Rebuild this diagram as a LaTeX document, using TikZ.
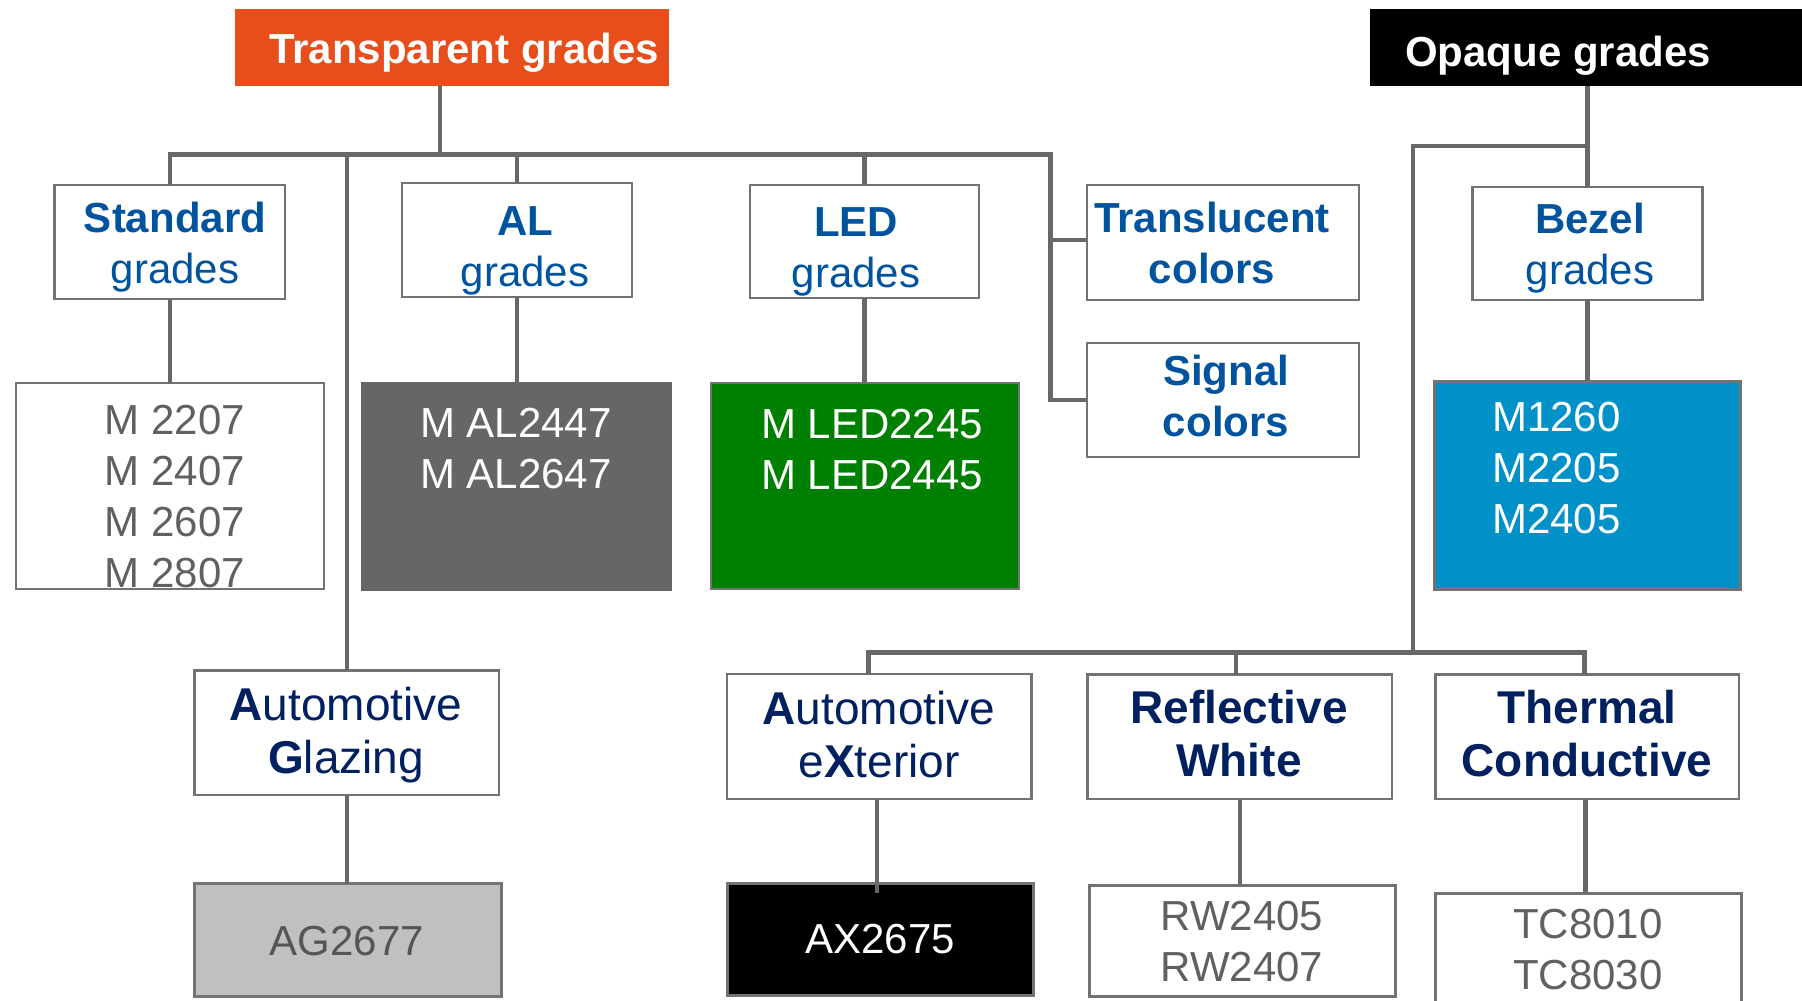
\documentclass[tikz,border=0pt]{standalone}
\usepackage{fontspec}
\setmainfont{Liberation Sans}
\definecolor{orng}{RGB}{232,78,27}
\definecolor{topblue}{RGB}{0,84,159}
\definecolor{navy}{RGB}{0,32,96}
\definecolor{linegray}{RGB}{104,104,104}
\definecolor{bordergray}{RGB}{115,115,115}
\definecolor{prodgray}{RGB}{96,96,96}
\definecolor{alfill}{RGB}{102,102,102}
\definecolor{ledgreen}{RGB}{0,128,0}
\definecolor{bezblue}{RGB}{0,145,200}
\definecolor{agfill}{RGB}{192,192,192}
\definecolor{agtext}{RGB}{85,85,85}
\newcommand\stk[1]{\begin{tabular}[t]{@{}c@{}}#1\end{tabular}}
\newcommand\stkl[1]{\begin{tabular}[t]{@{}l@{}}#1\end{tabular}}
\begin{document}
\begin{tikzpicture}[x=1pt,y=-1pt,
  box/.style={draw=bordergray, line width=2.5pt, fill=white, rectangle, inner sep=0pt, outer sep=0pt},
  conn/.style={draw=linegray, line width=4.5pt, line join=miter, line cap=butt},
  connthin/.style={draw=linegray, line width=3.2pt, line join=miter, line cap=butt},
  txt/.style={anchor=base, inner sep=0pt, font=\fontsize{42}{51}\selectfont},
  txtl/.style={anchor=base west, inner sep=0pt, font=\fontsize{42}{51.3}\selectfont},
  cat/.style={anchor=base, inner sep=0pt, font=\fontsize{46}{53}\selectfont, text=navy}]
\useasboundingbox (0,0) rectangle (1802,1001);
\clip (0,0) rectangle (1802,1001);

% bus coordinates
\coordinate (busR) at (1050.5,154.5);
\coordinate (obr) at (1413,146);
\coordinate (lbus) at (1413,652.7);

% header boxes
\node[rectangle, fill=orng, inner sep=0pt, minimum width=434, minimum height=77] (tr) at (452,47.5) {};
\node[rectangle, fill=black, inner sep=0pt, minimum width=440, minimum height=77] (op) at (1590,47.5) {};

% category boxes (top)
\node[box, minimum width=230.5, minimum height=114] (std) at (169.75,242) {};
\node[box, minimum width=230, minimum height=114] (al) at (517,240) {};
\node[box, minimum width=229, minimum height=113] (led) at (864.5,241.5) {};
\node[box, minimum width=272, minimum height=115] (tl) at (1223,242.5) {};
\node[box, minimum width=272, minimum height=114] (sig) at (1223,400) {};
\node[box, minimum width=230, minimum height=113] (bez) at (1587.7,243.5) {};

% product boxes (top)
\node[box, minimum width=308, minimum height=206] (stdp) at (170,486) {};
\node[box, draw=alfill, fill=alfill, minimum width=309, minimum height=207] (alp) at (516.5,486.5) {};
\node[box, fill=ledgreen, minimum width=308, minimum height=206] (ledp) at (865,486) {};
\node[box, fill=bezblue, line width=3pt, minimum width=306, minimum height=208] (bezp) at (1587,485) {};

% category boxes (bottom)
\node[box, minimum width=304.5, minimum height=124.5] (agc) at (346.75,732.75) {};
\node[box, minimum width=304.7, minimum height=125] (axc) at (879.35,736.5) {};
\node[box, minimum width=304.3, minimum height=124.3] (rwc) at (1239.85,736.85) {};
\node[box, minimum width=303.4, minimum height=124.3] (tcc) at (1587.3,736.85) {};

% product boxes (bottom)
\node[box, fill=agfill, line width=3pt, minimum width=306.5, minimum height=112.3] (agp) at (347.75,939.85) {};
\node[box, fill=black, line width=3pt, minimum width=306, minimum height=112] (axp) at (880,939) {};
\node[box, line width=3pt, minimum width=306, minimum height=111.7] (rwp) at (1242,940.85) {};
\node[box, line width=3pt, minimum width=306, minimum height=122] (tcp) at (1588.6,954) {};

% connectors: transparent tree
\draw[conn] ([xshift=-12pt]tr.south) -- ([xshift=-12pt]tr.south |- busR);
\draw[conn] (std.north) |- (busR) |- (sig.west);
\draw[conn] (busR |- tl.west) ++(0,-2.5) -- ([yshift=2.5pt]tl.west);
\draw[conn] (al.north) -- (al.north |- busR);
\draw[conn] (led.north) -- (led.north |- busR);
\draw[conn] (agc.north) -- (agc.north |- busR);
\draw[conn] (std.south) -- (std.south |- stdp.north);
\draw[conn] (al.south) -- (al.south |- alp.north);
\draw[conn] (led.south) -- (led.south |- ledp.north);
\draw[conn] (agc.south) -- (agc.south |- agp.north);
% connectors: opaque tree
\draw[conn] (bez.north) -- (bez.north |- op.south);
\draw[conn] (bez.south) -- (bez.south |- bezp.north);
\draw[connthin] (bez.north |- obr) -- (obr) -- (lbus);
\draw[conn] ([xshift=-11pt]axc.north) |- (lbus) -| ([xshift=-3pt]tcc.north);
\draw[conn] ([xshift=-4pt]rwc.north) -- ([xshift=-4pt]rwc.north |- lbus);
\draw[conn] ([xshift=-2.5pt]axc.south) -- ([xshift=-2.5pt,yshift=-10pt]axc.south |- axp.north);
\draw[conn] (rwc.south) -- (rwc.south |- rwp.north);
\draw[conn] ([xshift=-2pt]tcc.south) -- ([xshift=-2pt]tcc.south |- tcp.north);

% texts
\node[txt, text=white, font=\fontsize{42}{51}\selectfont\bfseries] (ttr) at (464,63) {Transparent grades};
\node[txt, text=white, font=\fontsize{42}{51}\selectfont\bfseries] (top) at (1558,66) {Opaque grades};

\node[txt, text=topblue] (tstd) at (175,232) {\stk{\textbf{Standard}\\grades}};
\node[txt, text=topblue] (tal) at (525,235) {\stk{\textbf{AL}\\grades}};
\node[txt, text=topblue] (tled) at (856,236) {\stk{\textbf{LED}\\grades}};
\node[txt, text=topblue] (ttl) at (1212,232) {\stk{\textbf{Translucent}\\\textbf{colors}}};
\node[txt, text=topblue] (tsig) at (1226,385) {\stk{\textbf{Signal}\\\textbf{colors}}};
\node[txt, text=topblue] (tbez) at (1590,233) {\stk{\textbf{Bezel}\\grades}};

\node[txt, text=prodgray, font=\fontsize{42}{51.3}\selectfont] (tstdp) at (175,434) {\stk{M 2207\\M 2407\\M 2607\\M 2807}};
\node[txt, text=white] (talp) at (516,437) {\stk{M AL2447\\M AL2647}};
\node[txt, text=white] (tledp) at (872,438) {\stk{M LED2245\\M LED2445}};
\node[txtl, text=white] (tbezp) at (1492,431) {\stkl{M1260\\M2205\\M2405}};

\node[cat] (tagc) at (346,720) {\stk{\textbf{A}utomotive\\\textbf{G}lazing}};
\node[cat] (taxc) at (879,724) {\stk{\textbf{A}utomotive\\e\textbf{X}terior}};
\node[cat] (trwc) at (1239,723) {\stk{\textbf{Reflective}\\\textbf{White}}};
\node[cat] (ttcc) at (1587,723) {\stk{\textbf{Thermal}\\\textbf{Conductive}}};

\node[txt, text=agtext] (tagp) at (347,955) {AG2677};
\node[txt, text=white] (taxp) at (880,953) {AX2675};
\node[txt, text=prodgray] (trwp) at (1242,930) {\stk{RW2405\\RW2407}};
\node[txt, text=prodgray] (ttcp) at (1588,938) {\stk{TC8010\\TC8030}};
\end{tikzpicture}
\end{document}
